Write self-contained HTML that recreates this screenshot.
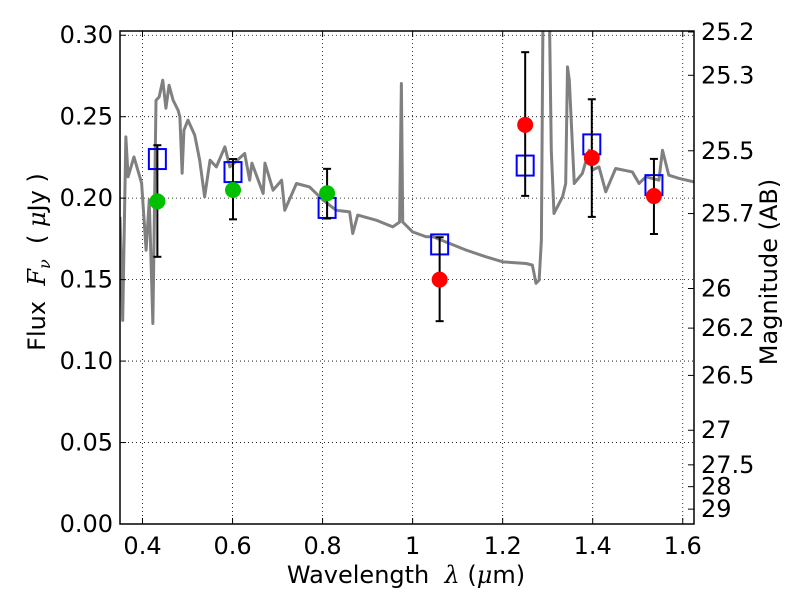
<!DOCTYPE html>
<html><head><meta charset="utf-8"><style>
body{margin:0;background:#fff;width:800px;height:600px;overflow:hidden}
svg{display:block;font-family:"DejaVu Sans","Liberation Sans",sans-serif}
</style></head><body>
<svg id="chart" width="800" height="600" viewBox="0 0 800 600" xmlns="http://www.w3.org/2000/svg"></svg>
<script>
const xTicks=[0.4,0.6,0.8,1.0,1.2,1.4,1.6];
const xTickLabels=["0.4","0.6","0.8","1","1.2","1.4","1.6"];
const yTicks=[0,0.05,0.10,0.15,0.20,0.25,0.30];
const yTickLabels=["0.00","0.05","0.10","0.15","0.20","0.25","0.30"];
const magTicks=[25.2,25.3,25.5,25.7,26,26.2,26.5,27,27.5,28,29];
const magTickLabels=["25.2","25.3","25.5","25.7","26","26.2","26.5","27","27.5","28","29"];
const specWl=[0.350,0.356,0.363,0.368,0.381,0.398,0.408,0.415,0.423,0.430,0.437,0.445,0.452,0.459,0.468,0.479,0.483,0.488,0.492,0.501,0.516,0.527,0.538,0.550,0.564,0.583,0.594,0.627,0.638,0.643,0.668,0.672,0.690,0.709,0.716,0.742,0.771,0.801,0.830,0.860,0.867,0.878,0.919,0.956,0.971,0.975,0.978,1.000,1.030,1.045,1.119,1.163,1.200,1.252,1.266,1.274,1.281,1.286,1.290,1.303,1.308,1.314,1.333,1.340,1.344,1.348,1.359,1.377,1.392,1.399,1.414,1.429,1.451,1.488,1.503,1.518,1.547,1.555,1.569,1.592,1.625];
const specFlux=[0.1885,0.125,0.2376,0.2131,0.2253,0.2092,0.1681,0.1988,0.1231,0.2601,0.2621,0.2724,0.2552,0.2693,0.2601,0.2540,0.2499,0.2153,0.2417,0.2479,0.2387,0.2233,0.2008,0.2233,0.2192,0.2315,0.2192,0.2274,0.2110,0.2215,0.2029,0.2215,0.2049,0.2110,0.1926,0.2090,0.2069,0.1988,0.1926,0.1916,0.1783,0.1896,0.1865,0.1824,0.1853,0.2704,0.1853,0.1793,0.1763,0.1763,0.1681,0.1640,0.1609,0.1599,0.1589,0.1477,0.1497,0.1742,0.33,0.33,0.2294,0.1906,0.2008,0.2090,0.2806,0.2724,0.2090,0.2152,0.2294,0.2172,0.2192,0.2039,0.2182,0.2161,0.2090,0.2131,0.2110,0.2294,0.2141,0.2121,0.2100];
const ptWl=[0.433,0.601,0.810,1.060,1.250,1.398,1.536];
const ptFlux=[0.198,0.205,0.203,0.150,0.245,0.2247,0.2013];
const ptLow=[0.164,0.187,0.1875,0.1245,0.2014,0.1885,0.178];
const ptHigh=[0.2325,0.224,0.218,0.176,0.2896,0.2607,0.2241];
const ptColor=["#00c000","#00c000","#00c000","#ff0000","#ff0000","#ff0000","#ff0000"];
const modelFlux=[0.224,0.216,0.194,0.1716,0.220,0.233,0.208];

const X0=120,X1=694,Y0=524,Y1=31,xmin=0.35,xmax=1.625,ymin=0,ymax=0.3026;
const sx=v=>X0+(v-xmin)/(xmax-xmin)*(X1-X0);
const sy=v=>Y0-(v-ymin)/(ymax-ymin)*(Y0-Y1);
const NS="http://www.w3.org/2000/svg";
const svg=document.getElementById('chart');
function mk(tag,attrs,parent){const e=document.createElementNS(NS,tag);for(const k in attrs)e.setAttribute(k,attrs[k]);(parent||svg).appendChild(e);return e;}

const defs=mk('defs',{});
const cp=mk('clipPath',{id:'clip'},defs);
mk('rect',{x:X0,y:Y1,width:X1-X0,height:Y0-Y1},cp);

const grid=mk('g',{});


xTicks.forEach(t=>{mk('line',{x1:sx(t),x2:sx(t),y1:Y1,y2:Y0,stroke:'#000','stroke-width':0.8,'stroke-dasharray':'1,3'},grid);});
yTicks.forEach(t=>{mk('line',{x1:X0,x2:X1,y1:sy(t),y2:sy(t),stroke:'#000','stroke-width':0.8,'stroke-dasharray':'1,3'},grid);});

const spec=mk('polyline',{points:specWl.map((w,i)=>sx(w)+','+sy(specFlux[i])).join(' '),fill:'none',stroke:'#808080','stroke-width':3,'stroke-linejoin':'round','clip-path':'url(#clip)'});



modelFlux.forEach((f,i)=>{
  const r=mk('rect',{x:sx(ptWl[i])-8.5,y:sy(f)-10,width:17,height:20,fill:'none',stroke:'#0000ff','stroke-width':2});
  
  
});
ptWl.forEach((w,i)=>{
  const g=mk('g',{});
  
  
  const x=sx(w);
  mk('line',{x1:x,x2:x,y1:sy(ptLow[i]),y2:sy(ptHigh[i]),stroke:'#000','stroke-width':2},g);
  mk('line',{x1:x-4,x2:x+4,y1:sy(ptLow[i]),y2:sy(ptLow[i]),stroke:'#000','stroke-width':2},g);
  mk('line',{x1:x-4,x2:x+4,y1:sy(ptHigh[i]),y2:sy(ptHigh[i]),stroke:'#000','stroke-width':2},g);
  mk('circle',{cx:x,cy:sy(ptFlux[i]),r:8,fill:ptColor[i]},g);
});

const fr=mk('rect',{x:X0,y:Y1,width:X1-X0,height:Y0-Y1,fill:'none',stroke:'#000','stroke-width':1.5});



xTicks.forEach((t,i)=>{
  mk('line',{x1:sx(t),x2:sx(t),y1:Y0,y2:Y0-6,stroke:'#000'});
  mk('line',{x1:sx(t),x2:sx(t),y1:Y1,y2:Y1+6,stroke:'#000'});
  const tx=mk('text',{x:sx(t),y:Y0+30,'text-anchor':'middle','font-size':24});
  tx.textContent=xTickLabels[i];
  
  
});
yTicks.forEach((t,i)=>{
  mk('line',{x1:X0,x2:X0+6,y1:sy(t),y2:sy(t),stroke:'#000'});
  const tx=mk('text',{x:X0-7,y:sy(t)+8,'text-anchor':'end','font-size':24});
  tx.textContent=yTickLabels[i];
  
  
});
magTicks.forEach((m,i)=>{
  const f=Math.pow(10,(23.9-m)/2.5);
  const y=sy(f);
  mk('line',{x1:X1,x2:X1-6,y1:y,y2:y,stroke:'#000'});
  const tx=mk('text',{x:X1+7,y:y+8,'font-size':24});
  tx.textContent=magTickLabels[i];
  
  
});

const xt=mk('text',{x:406,y:583,'text-anchor':'middle','font-size':24});
xt.innerHTML='Wavelength <tspan font-style="italic" font-family="DejaVu Serif,serif">&#160;λ</tspan> (<tspan font-style="italic" font-family="DejaVu Serif,serif">μ</tspan>m)';


const yt=mk('text',{x:0,y:0,'text-anchor':'middle','font-size':24,transform:'translate(45,262) rotate(-90)'});
yt.innerHTML='Flux <tspan font-style="italic" font-family="DejaVu Serif,serif">&#160;F</tspan><tspan font-style="italic" font-size="16" dy="5" font-family="DejaVu Serif,serif">ν</tspan><tspan dy="-5"> &#160;( </tspan><tspan font-style="italic" font-family="DejaVu Serif,serif">μ</tspan>Jy )';


const rt=mk('text',{x:0,y:0,'text-anchor':'middle','font-size':24,transform:'translate(777,272) rotate(-90)'});
rt.textContent='Magnitude (AB)';


</script>
</body></html>
